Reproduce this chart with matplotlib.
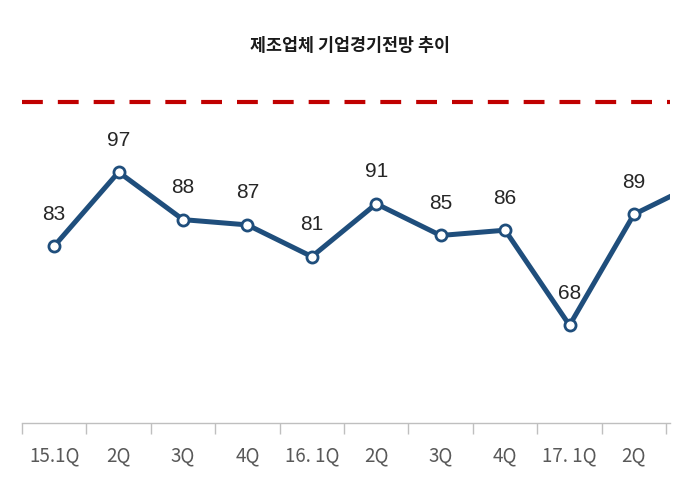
import numpy as np
import matplotlib.pyplot as plt

plt.rcParams['font.family'] = ['Noto Sans CJK KR', 'DejaVu Sans']

# ── DATA ─────────────────────────────────────────────
quarters = ['15.1Q', '2Q', '3Q', '4Q', '16. 1Q', '2Q', '3Q', '4Q', '17. 1Q', '2Q']
bsi      = [83, 97, 88, 87, 81, 91, 85, 86, 68, 89]
next_bsi = 95      # next quarter, cut off at the right edge
ref_line = 110.2

title = '제조업체 기업경기전망 추이'

# ── PLOT ─────────────────────────────────────────────
fig = plt.figure(figsize=(7, 5), dpi=100)
ax = fig.add_axes([22 / 700, 77 / 500, 648 / 700, 346 / 500])

x = np.arange(len(bsi) + 1)
y = bsi + [next_bsi]
blue = '#1F4E7C'

ax.axhline(ref_line, color='#C00000', lw=3, dashes=(5, 3.6), zorder=1)
ax.plot(x, y, color=blue, lw=3.6, zorder=2, solid_capstyle='butt')
ax.plot(x[:len(bsi)], bsi, 'o', ms=8, mfc='white', mec=blue, mew=2, zorder=3)

for i, v in enumerate(bsi):
    ax.annotate(str(v), (i, v), xytext=(0, 23), textcoords='offset points',
                ha='center', va='center', fontsize=15, color='#262626',
                family=['Liberation Sans', 'DejaVu Sans'])

ax.set_xlim(-0.5, 9.56)
ax.set_ylim(49.5, 115)

ax.set_xticks(range(len(quarters)))
ax.set_xticklabels(quarters, fontsize=13.5, color='#595959')
ax.tick_params(axis='x', which='major', length=0, pad=16)
ax.set_xticks(np.arange(-0.5, len(quarters), 1), minor=True)
ax.tick_params(axis='x', which='minor', length=8, color='#BFBFBF', width=1)
ax.set_yticks([])

for s in ['left', 'right', 'top']:
    ax.spines[s].set_visible(False)
ax.spines['bottom'].set_color('#BFBFBF')
ax.spines['bottom'].set_linewidth(1)

fig.text(0.5, 1 - 46 / 500, title, ha='center', va='center',
         fontsize=12.5, color='#1a1a1a', fontweight='bold')

fig.savefig('out.png', dpi=100)
